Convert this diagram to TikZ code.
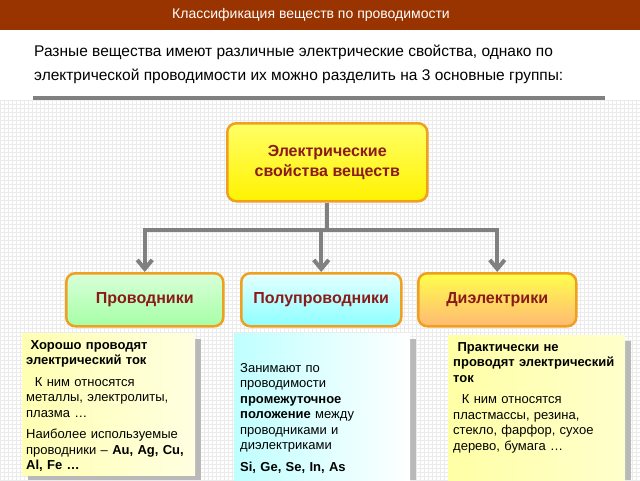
\documentclass[tikz,border=0pt]{standalone}
\usepackage{fontspec}
\setmainfont{Liberation Sans}
\usetikzlibrary{arrows.meta,shadings}
\definecolor{barbrown}{HTML}{993300}
\definecolor{titlered}{HTML}{8B1A1A}
\definecolor{edgeorange}{HTML}{F0A020}
\tikzset{
    head/.style={draw=edgeorange,line width=2.5pt,rounded corners=9pt,font=\bfseries\fontsize{16}{20}\selectfont,text=titlered,align=center,anchor=north west},
    infobox/.style={anchor=north west,inner sep=0pt,text width=166pt,font=\fontsize{13}{15.5}\selectfont},
    link/.style={draw=gray,line width=4pt,-{Straight Barb[length=9pt,width=15pt]}}
}
\begin{document}
\begin{tikzpicture}[x=1pt,y=-1pt]
    \useasboundingbox (0,0) rectangle (640,480);
    % background grid
    \draw[black!8,step=4pt] (0,100) grid (640,480);
    \fill[barbrown] (0,0) rectangle (640,30);
    \node (title) at (311,15) {\color{white}\fontsize{14}{16}\selectfont Классификация веществ по проводимости};
    \node[anchor=north west,align=left,font=\fontsize{15.5}{24}\selectfont,inner sep=0pt] (intro) at (34,45)
        {Разные вещества имеют различные электрические свойства, однако по\\электрической проводимости их можно разделить на 3 основные группы:};
    \draw[gray,line width=4pt] (33,98) -- (605,98);

    % main and group boxes
    \node[head,top color=yellow!60,bottom color=yellow!90!orange,minimum width=200pt,minimum height=78pt] (prop) at (226,122) {Электрические\\свойства веществ};
    \node[head,top color=green!15,bottom color=green!35,minimum width=157pt,minimum height=53pt] (cond) at (65,272) {Проводники};
    \node[head,top color=cyan!10,bottom color=cyan!45,minimum width=160pt,minimum height=53pt] (semi) at (240,272) {Полупроводники};
    \node[head,top color=yellow!70,bottom color=orange!55,minimum width=158pt,minimum height=53pt] (diel) at (417,272) {Диэлектрики};

    \coordinate (fork) at (prop.south |- 0,230);
    \draw[draw=gray,line width=4pt] (prop.south) -- (fork);
    \draw[draw=gray,line width=4pt,line cap=rect] (cond.north |- fork) -- (diel.north |- fork);
    \draw[link] (cond.north |- fork) -- (cond.north);
    \draw[link] (semi.north |- fork) -- (semi.north);
    \draw[link] (diel.north |- fork) -- (diel.north);

    % description boxes
    \fill[gray!55] (28,339) rectangle (201,480);
    \fill[gray!55] (240,339) rectangle (416,480);
    \fill[gray!55] (454,341) rectangle (631,480);
    \shade[left color=yellow!30,right color=yellow!12] (22,333) rectangle (195,475);
    \shade[left color=cyan!25,right color=white] (234,333) rectangle (410,480);
    \shade[left color=yellow!35,right color=yellow!20] (448,335) rectangle (625,480);
    \node[infobox,text width=168pt] (condtext) at (26,340)
        {\textbf{\ Хорошо проводят электрический ток}\par\vspace{6pt}
        \ \ К ним относятся металлы, электролиты, плазма …\par\vspace{6pt}
        Наиболее используемые проводники – \textbf{Au, Ag, Cu, Al, Fe …}};
    \node[infobox] (semitext) at (240,363)
        {Занимают по проводимости \textbf{промежуточное положение} между проводниками и диэлектриками\par\vspace{6pt}
        \textbf{Si, Ge, Se, In, As}};
    \node[infobox] (dieltext) at (453,342)
        {\textbf{\ Практически не проводят электрический ток}\par\vspace{6pt}
        \ \ К ним относятся пластмассы, резина, стекло, фарфор, сухое дерево, бумага …};
\end{tikzpicture}
\end{document}
